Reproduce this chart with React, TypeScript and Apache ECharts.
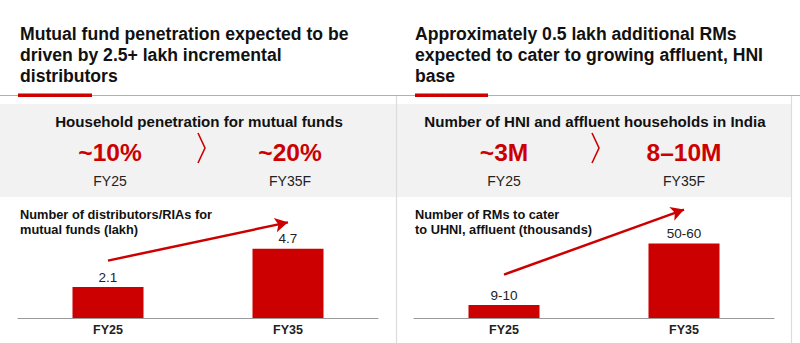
import React, { useEffect, useRef } from "react";
import * as echarts from "echarts";

const categories = ["FY25", "FY35"];
const distributorValues = [2.1, 4.7];
const distributorLabels = ["2.1", "4.7"];
const rmValues = [9.5, 55];
const rmLabels = ["9-10", "50-60"];
const leftArrow = [3.9, 6.5];
const rightArrow = [32, 80];

const RED = "#cc0000";
const FONT = "'Liberation Sans', Arial, sans-serif";

export default function App() {
  const ref = useRef<HTMLDivElement>(null);
  useEffect(() => {
    const chart = echarts.init(ref.current!, null, { renderer: "svg" });
    const text = (x: number, y: number, t: string, font: string, fill: string, align = "center", lineHeight?: number, vAlign = "middle") => ({
      type: "text",
      x,
      y,
      silent: true,
      style: { text: t, font, fill, align, verticalAlign: vAlign, lineHeight },
    });
    const catAxis = (gridIndex: number) => ({
      type: "category",
      gridIndex,
      data: categories,
      axisTick: { show: false },
      axisLine: { lineStyle: { color: "#9a9a9a", width: 1 } },
      axisLabel: { fontFamily: FONT, fontWeight: "bold", fontSize: 12.5, color: "#222", margin: 5 },
    });
    const valAxis = (gridIndex: number, max: number) => ({
      type: "value",
      gridIndex,
      min: 0,
      max,
      show: false,
      splitLine: { show: false },
    });
    const barSeries = (idx: number, values: number[], labels: string[], arrow: number[]) => ({
      type: "bar",
      xAxisIndex: idx,
      yAxisIndex: idx,
      data: values,
      barWidth: 71,
      itemStyle: { color: RED },
      label: {
        show: true,
        position: "top",
        distance: 3,
        fontFamily: FONT,
        fontSize: 13.5,
        color: "#222",
        formatter: (p: any) => labels[p.dataIndex],
      },
      markLine: {
        silent: true,
        animation: false,
        symbolSize: [11, 13],
        lineStyle: { color: RED, width: 2.5, type: "solid" },
        label: { show: false },
        data: [
          [
            { coord: [0, arrow[0]], symbol: "none" },
            { coord: [1, arrow[1]], symbol: "arrow" },
          ],
        ],
      },
    });
    chart.setOption({
      animation: false,
      grid: [
        { left: 18, width: 360, top: 215, bottom: 25 },
        { left: 414, width: 360, top: 196, bottom: 25 },
      ],
      xAxis: [catAxis(0), catAxis(1)],
      yAxis: [valAxis(0, 7), valAxis(1, 90)],
      series: [
        barSeries(0, distributorValues, distributorLabels, leftArrow),
        barSeries(1, rmValues, rmLabels, rightArrow),
      ],
      graphic: [
        { type: "rect", silent: true, z: -10, shape: { x: 0, y: 104, width: 791, height: 93 }, style: { fill: "#f2f2f2" } },
        { type: "line", silent: true, shape: { x1: 0, y1: 95.5, x2: 800, y2: 95.5 }, style: { stroke: "#b0b0b0", lineWidth: 1 } },
        { type: "line", silent: true, shape: { x1: 396.5, y1: 96, x2: 396.5, y2: 343 }, style: { stroke: "#dcdcdc", lineWidth: 1.2 } },
        { type: "line", silent: true, shape: { x1: 791.5, y1: 96, x2: 791.5, y2: 343 }, style: { stroke: "#dcdcdc", lineWidth: 1.2 } },
        { type: "rect", silent: true, shape: { x: 18, y: 93.5, width: 74, height: 3.5 }, style: { fill: RED } },
        { type: "rect", silent: true, shape: { x: 415, y: 93.5, width: 73, height: 3.5 }, style: { fill: RED } },
        text(20, 23.5, "Mutual fund penetration expected to be\ndriven by 2.5+ lakh incremental\ndistributors", `bold 17.6px ${FONT}`, "#111", "left", 21, "top"),
        text(415, 23.5, "Approximately 0.5 lakh additional RMs\nexpected to cater to growing affluent, HNI\nbase", `bold 17.6px ${FONT}`, "#111", "left", 21, "top"),
        text(199, 121, "Household penetration for mutual funds", `bold 15.1px ${FONT}`, "#111"),
        text(595, 121, "Number of HNI and affluent households in India", `bold 15.1px ${FONT}`, "#111"),
        text(110, 152, "~10%", `bold 24.5px ${FONT}`, RED),
        text(290, 152, "~20%", `bold 24.5px ${FONT}`, RED),
        text(504, 152, "~3M", `bold 24.5px ${FONT}`, RED),
        text(684, 152, "8–10M", `bold 24.5px ${FONT}`, RED),
        text(110, 181, "FY25", `14px ${FONT}`, "#222"),
        text(290, 181, "FY35F", `14px ${FONT}`, "#222"),
        text(504, 181, "FY25", `14px ${FONT}`, "#222"),
        text(684, 181, "FY35F", `14px ${FONT}`, "#222"),
        { type: "polyline", silent: true, shape: { points: [[198, 133], [205, 148], [198, 163]] }, style: { stroke: RED, lineWidth: 1.6, fill: "none" } },
        { type: "polyline", silent: true, shape: { points: [[592, 133], [599, 148], [592, 163]] }, style: { stroke: RED, lineWidth: 1.6, fill: "none" } },
        text(20, 206.5, "Number of distributors/RIAs for\nmutual funds (lakh)", `bold 12.8px ${FONT}`, "#111", "left", 15, "top"),
        text(415, 206.5, "Number of RMs to cater\nto UHNI, affluent (thousands)", `bold 12.8px ${FONT}`, "#111", "left", 15, "top"),
      ],
    });
    return () => chart.dispose();
  }, []);
  return (
    <div
      ref={ref}
      style={{ position: "fixed", left: 0, top: 0, width: 800, height: 343, background: "#fff" }}
    />
  );
}
